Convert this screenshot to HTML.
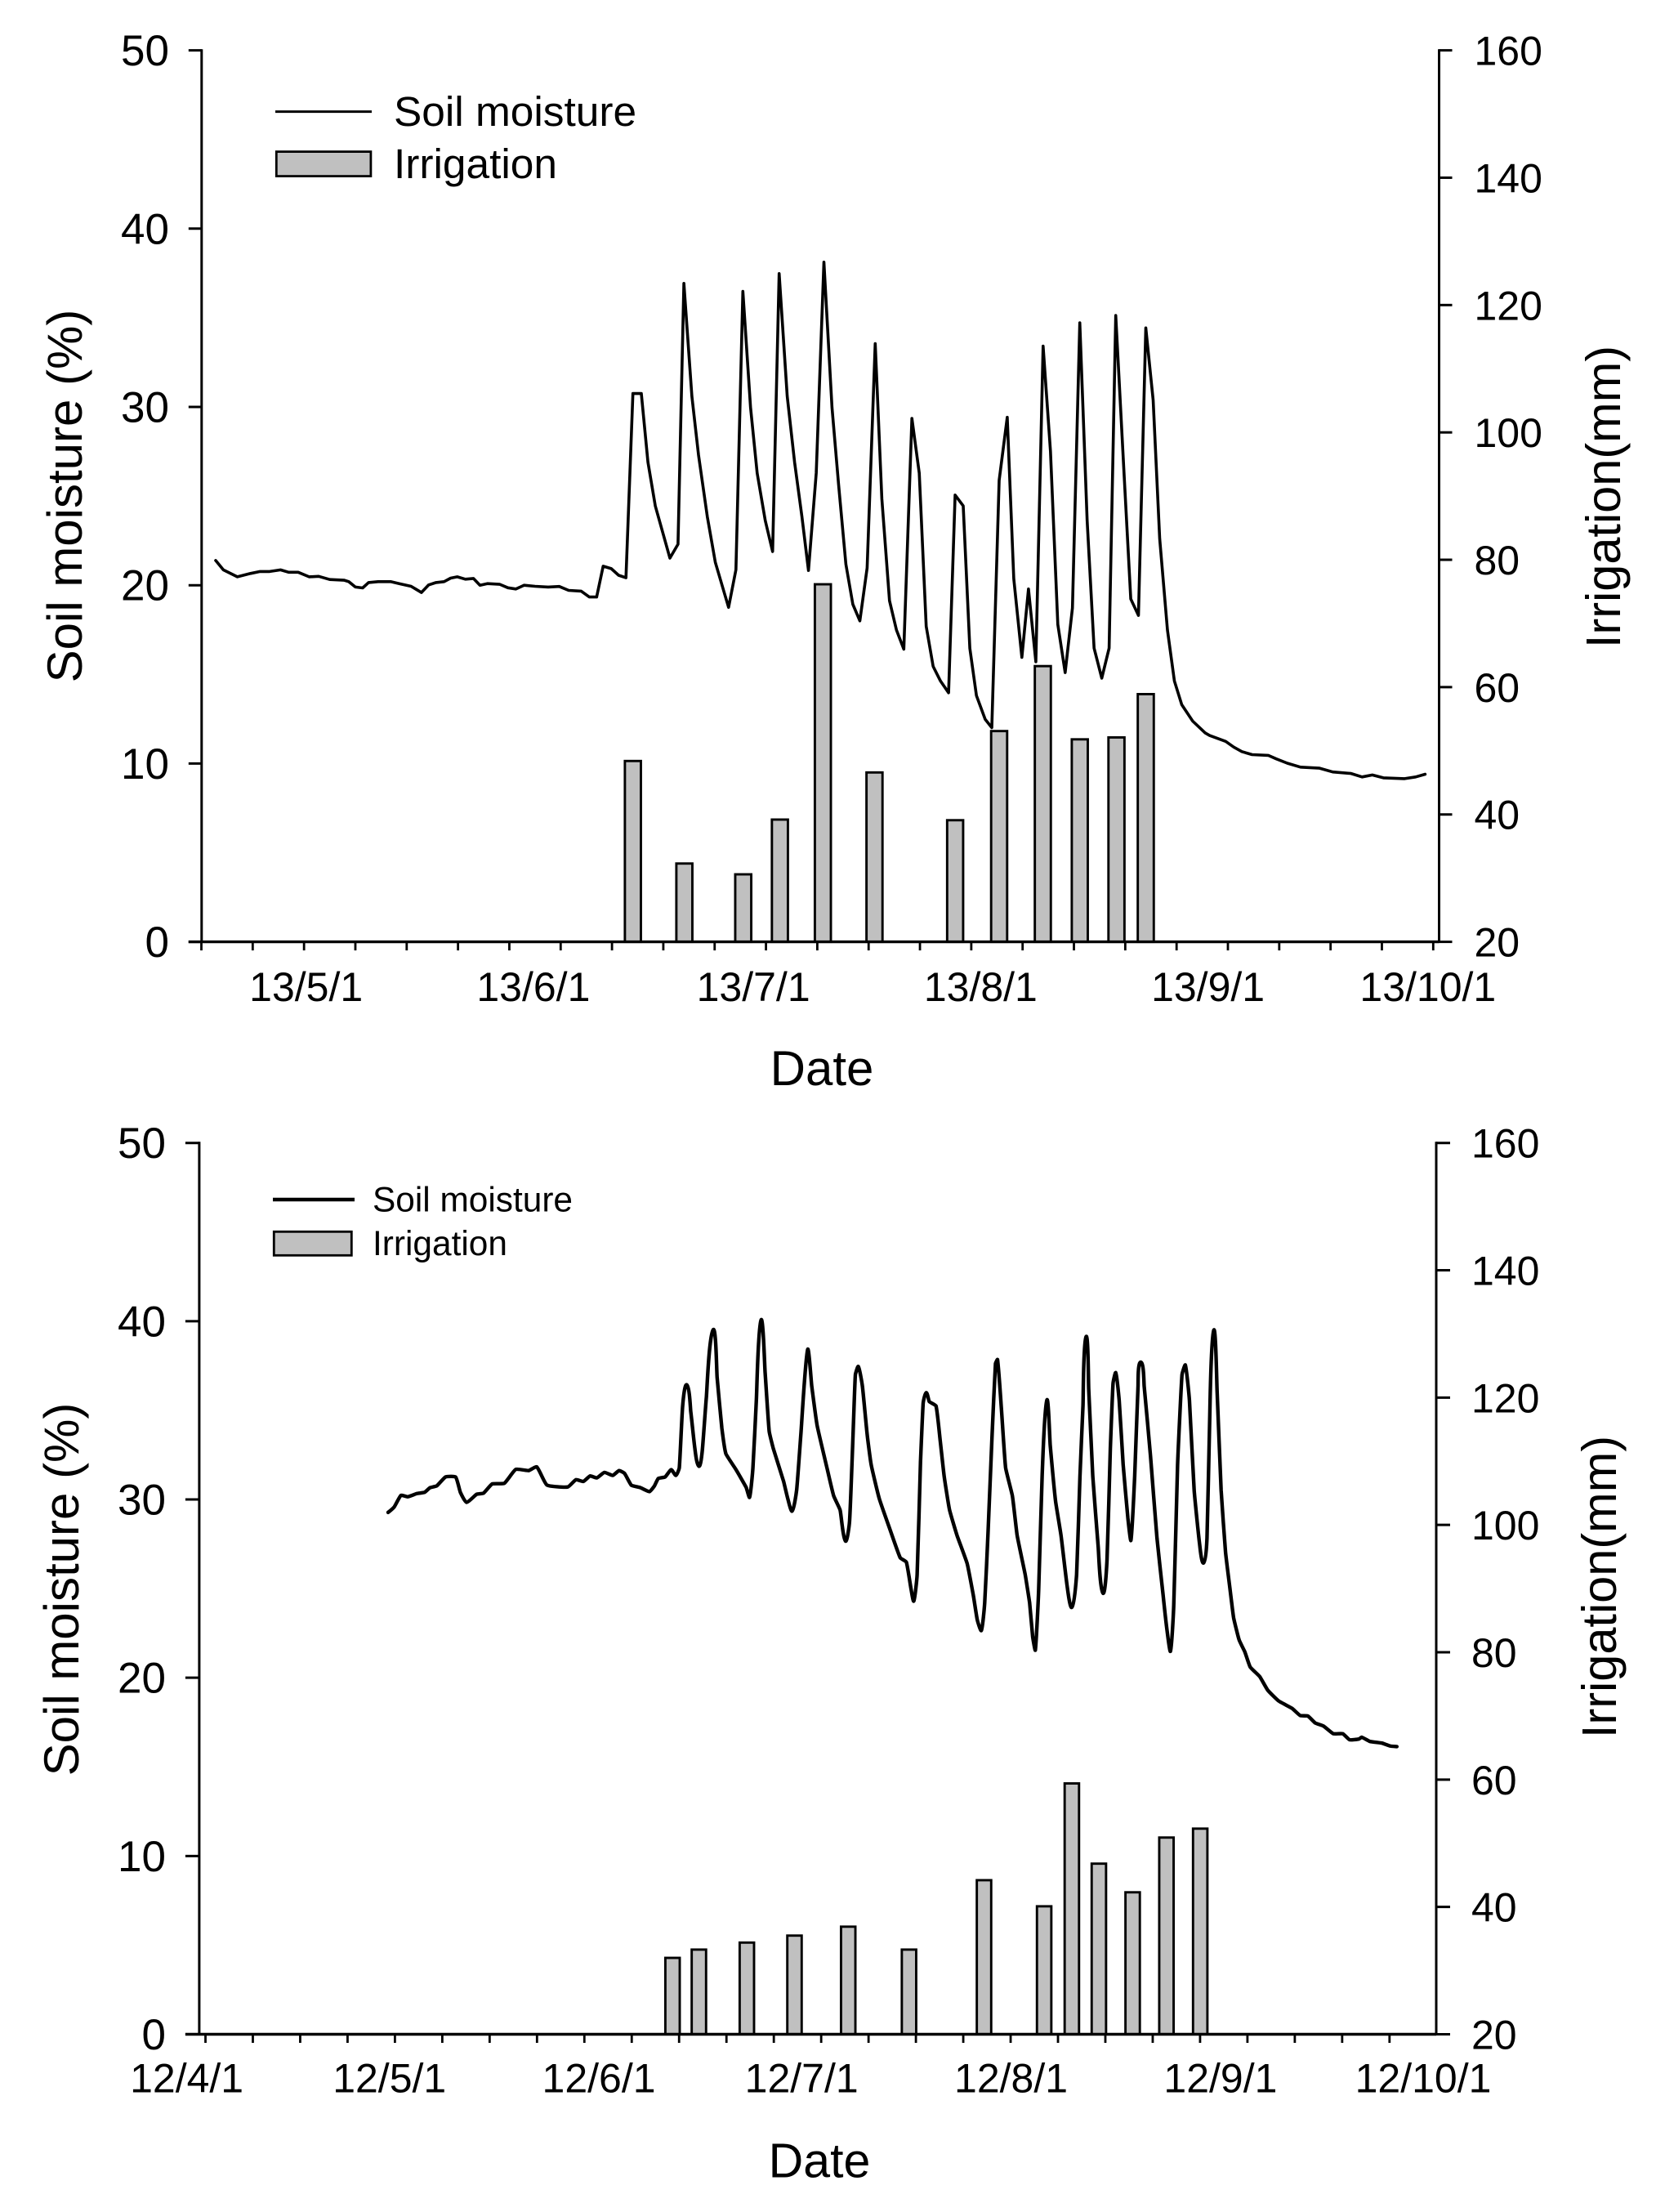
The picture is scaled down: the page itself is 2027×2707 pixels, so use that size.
<!DOCTYPE html>
<html lang="en">
<head>
<meta charset="utf-8">
<title>Soil moisture and irrigation</title>
<style>
  html, body { margin: 0; padding: 0; background: #fff; }
  svg { display: block; }
  text { font-family: "Liberation Sans", sans-serif; fill: #000; }
</style>
</head>
<body>
<svg id="figure" xmlns="http://www.w3.org/2000/svg" width="2027" height="2707" viewBox="0 0 2027 2707">
  <rect x="0" y="0" width="2027" height="2707" fill="#fff"/>

  <g id="chart-2013">
    <text font-size="60" text-anchor="middle" transform="translate(100,607) rotate(-90)">Soil moisture (%)</text>
    <text font-size="59.5" text-anchor="middle" transform="translate(1983,608) rotate(-90)">Irrigation(mm)</text>
    <text font-size="60" text-anchor="middle" x="1006" y="1328">Date</text>
    <g>
      <line x1="337" y1="136.6" x2="455" y2="136.6" stroke="#000" stroke-width="3"/>
      <text font-size="51.4" x="482" y="154">Soil moisture</text>
      <rect x="338.3" y="185.6" width="115.6" height="30" fill="#c0c0c0" stroke="#000" stroke-width="2.8"/>
      <text font-size="51.4" x="482" y="218">Irrigation</text>
    </g>
  </g>

  <g id="chart-2012">
    <text font-size="60" text-anchor="middle" transform="translate(96,1945) rotate(-90)">Soil moisture (%)</text>
    <text font-size="59.5" text-anchor="middle" transform="translate(1978,1942) rotate(-90)">Irrigation(mm)</text>
    <text font-size="59" text-anchor="middle" x="1003" y="2664.5">Date</text>
    <g>
      <line x1="334" y1="1468" x2="434" y2="1468" stroke="#000" stroke-width="4.4"/>
      <text font-size="42.4" x="456" y="1482.7">Soil moisture</text>
      <rect x="335.3" y="1507.3" width="95" height="29" fill="#c0c0c0" stroke="#000" stroke-width="2.8"/>
      <text font-size="42.4" x="456" y="1536">Irrigation</text>
    </g>
  </g>
</svg>

<script>
// ---------- 2013 data ----------
const days2013 = [
  1.95,3,4.9,6.7,8,9.3,10.8,11.9,13.2,14.7,16,17.5,19.5,20.1,21,22,22.8,24.1,25.8,27.1,28.6,30,31,32,33.1,34,34.9,36,37.1,38,39,40.7,41.8,42.9,44,45.5,47.3,48.8,50.1,
  51.8,52.9,53.9,54.8,55.9,56.9,57.9,58.85,60,60.9,61.9,63.9,65,65.8,66.9,67.8,69,70.1,71.9,72.9,73.85,74.9,75.8,76.9,77.9,78.8,79.9,80.9,81.9,82.8,83.85,84.9,86,86.9,87.9,88.85,89.8,90.8,91.9,92.8,93.85,94.8,95.8,96.9,97.9,98.85,99.8,100.8,101.9,102.8,103.9,104.8,105.7,106.9,107.8,108.8,109.9,110.8,111.9,112.8,113.8,114.8,115.8,116.8,117.8,118.8,119.8,120.8,121.75,122.8,123.8,124.7,125.8,126.75,127.8,128.8,129.8,130.7,131.75,132.7,133.7,135.2,136.9,137.5,139.7,140.8,141.9,143.3,145.5,146.6,148.1,149.9,152.5,154.3,156.8,158.3,159.7,161.2,164.1,165.6,166.9
];
const moisture2013 = [
  21.39,20.86,20.47,20.66,20.77,20.77,20.86,20.73,20.73,20.47,20.5,20.32,20.28,20.2,19.9,19.85,20.15,20.2,20.2,20.08,19.94,19.59,20.02,20.15,20.2,20.4,20.47,20.34,20.38,20,20.09,20.05,19.86,19.79,20,19.94,19.9,19.93,19.71,
  19.67,19.34,19.34,21.07,20.93,20.56,20.42,30.75,30.75,26.9,24.45,21.52,22.3,36.93,30.59,27.31,23.84,21.28,18.76,20.87,36.48,29.97,26.29,23.63,21.89,37.48,30.59,26.9,23.84,20.83,26.29,38.12,29.97,25.68,21.18,18.93,18,20.97,33.55,24.86,19.13,17.49,16.41,29.36,26.29,17.7,15.45,14.63,13.97,25.06,24.45,16.47,13.81,12.48,12.01,25.88,29.42,20.36,15.96,19.79,15.71,33.41,27.52,17.8,15.1,18.72,34.72,23.63,16.47,14.79,16.47,35.13,26.5,19.23,18.31,34.43,30.38,22.61,17.49,14.63,13.3,12.38,11.72,11.57,11.24,10.92,10.67,10.5,10.46,10.26,10.02,9.8,9.74,9.53,9.44,9.25,9.36,9.2,9.15,9.25,9.4
];
const barDays2013 = [58.85,65.87,73.9,78.9,84.76,91.8,102.8,108.8,114.76,119.8,124.8,128.8];
const irrigation2013 = [48.4,32.3,30.6,39.2,76.15,46.6,39.1,53.1,63.3,51.8,52.1,58.9];
const leftTicks2013 = [0,10,20,30,40,50];
const rightTicks2013 = [20,40,60,80,100,120,140,160];
const dateLabels2013 = ["13/5/1","13/6/1","13/7/1","13/8/1","13/9/1","13/10/1"];
const dateLabelDays2013 = [14,45,75,106,137,167];

// ---------- 2012 data ----------
const days2012 = [
  29.8,30.7,31.7,32.7,34.05,35.2,36,37,38.3,39.8,40.5,41.4,42.9,43.9,45.2,47,48.7,50.6,51.8,53.3,56.4,57.6,58.7,59.7,60.7,61.8,
  63.05,63.98,64.8,65.8,67.1,68.5,69.2,69.8,70.8,71.7,72.4,72.9,73.4,74,74.6,75.2,75.8,76.3,76.9,77.9,78.5,79.2,79.8,81.25,82.8,83.3,83.8,84.3,85,85.6,86.2,86.8,88.35,88.96,89.6,90.26,90.9,91.9,92.5,93.3,94.8,95.75,96.7,97.5,98.1,98.7,98.96,99.4,100,100.7,101.3,102.5,104.1,105.6,106.5,107.2,107.6,108.1,108.6,109,109.45,109.9,110.9,111.5,112.1,112.9,114,115.5,116.4,117,117.6,118.1,118.6,119.2,119.7,120,120.55,121.2,122.2,122.9,124.1,124.75,125.2,125.6,126.1,126.6,127.3,127.8,128.6,129.4,130.3,131,131.7,132.2,132.65,133.1,133.5,134.1,134.9,135.6,136.2,136.7,137.1,137.5,138,138.6,139.3,139.75,140.3,140.8,141.2,141.7,142.65,143.6,144.5,145.1,145.6,146.1,146.65,147.3,147.8,148.4,149.1,149.9,150.5,151,151.4,152,152.5,153.1,153.75,154.4,
  154.95,155.75,156.6,157.4,158.8,160,161.6,163.6,164.8,165.95,167,168.25,169.7,171.1,172.1,173.5,173.9,175.1,176.9,178.1,179.1
];
const moisture2012 = [
  29.27,29.58,30.23,30.15,30.33,30.4,30.66,30.76,31.26,31.26,30.4,29.84,30.29,30.35,30.87,30.91,31.69,31.62,31.83,30.81,30.7,31.11,31.01,31.32,31.21,31.52,
  31.35,31.62,31.46,30.8,30.67,30.44,30.75,31.18,31.26,31.67,31.35,31.78,35.25,36.43,34.93,32.88,31.86,32.73,35.72,39.51,36.83,33.99,32.57,31.7,30.67,30.12,31.78,35.57,40.06,37.14,33.83,32.88,30.99,30.04,29.35,30.52,33.67,38.41,36.36,34.15,31.7,30.2,29.41,27.67,28.78,34.46,36.99,37.46,36.36,33.67,31.94,30.04,28.3,26.73,26.49,24.99,24.3,25.78,32.09,35.41,35.99,35.49,35.25,33.36,31.3,29.41,27.99,26.41,24.67,23.25,22.65,24.2,28.15,33.67,37.62,37.85,35.25,31.78,30.2,27.99,25.78,24.2,22.31,21.55,24.99,31.3,35.57,33.04,29.88,27.99,25.15,23.95,25.78,31.3,35.25,39.12,36.2,31.3,27.36,24.75,26.57,32.88,36.51,37.11,35.57,31.94,28.94,27.71,31.3,36.36,37.7,36.36,32.41,27.83,24.67,22.62,21.49,24.2,31.94,36.99,37.54,35.57,30.51,27.52,26.44,27.83,34.46,39.48,36.04,30.51,27.04,25,
  23.36,22.13,21.45,20.6,20.07,19.3,18.7,18.28,17.88,17.85,17.47,17.29,16.86,16.86,16.52,16.56,16.66,16.43,16.33,16.17,16.14
];
const barDays2012 = [71.9,75.8,82.9,89.95,97.9,106.9,118,126.9,131,135,140,145,150];
const irrigation2012 = [32,33.3,34.4,35.5,36.9,33.3,44.2,40.1,59.4,46.8,42.3,50.9,52.3];
const leftTicks2012 = [0,10,20,30,40,50];
const rightTicks2012 = [20,40,60,80,100,120,140,160];
const dateLabels2012 = ["12/4/1","12/5/1","12/6/1","12/7/1","12/8/1","12/9/1","12/10/1"];
const dateLabelDays2012 = [0,30,61,91,122,153,183];

// ---------- drawing ----------
const SVG_NS = 'http://www.w3.org/2000/svg';

function mk(tag, attrs, parent, text) {
  const el = document.createElementNS(SVG_NS, tag);
  for (const k in attrs) el.setAttribute(k, attrs[k]);
  if (text !== undefined) el.textContent = text;
  parent.appendChild(el);
  return el;
}

// Path through the points; optionally lightly smoothed with length-scaled tangents.
function linePath(P, smooth) {
  let d = 'M' + P[0][0].toFixed(1) + ' ' + P[0][1].toFixed(1);
  if (!smooth) {
    for (let i = 1; i < P.length; i++) d += 'L' + P[i][0].toFixed(1) + ' ' + P[i][1].toFixed(1);
    return d;
  }
  const tangent = i => {
    const a = P[Math.max(i - 1, 0)], b = P[Math.min(i + 1, P.length - 1)];
    const dx = b[0] - a[0], dy = b[1] - a[1], n = Math.hypot(dx, dy) || 1;
    return [dx / n, dy / n];
  };
  for (let i = 0; i < P.length - 1; i++) {
    const p = P[i], q = P[i + 1], L = Math.hypot(q[0] - p[0], q[1] - p[1]);
    const t0 = tangent(i), t1 = tangent(i + 1), k = 0.13 * L;
    d += 'C' + (p[0] + t0[0] * k).toFixed(1) + ' ' + (p[1] + t0[1] * k).toFixed(1) + ' ' +
         (q[0] - t1[0] * k).toFixed(1) + ' ' + (q[1] - t1[1] * k).toFixed(1) + ' ' +
         q[0].toFixed(1) + ' ' + q[1].toFixed(1);
  }
  return d;
}

function drawChart(cfg) {
  const root = document.getElementById(cfg.rootId);
  const x = d => cfg.xOrigin + cfg.pxPerDay * d;
  const yL = v => cfg.yBase - (v / 50) * cfg.plotHeight;
  const yR = v => cfg.yBase - ((v - 20) / 140) * cfg.plotHeight;

  // bars
  cfg.barDays.forEach((d, i) => {
    const top = yR(cfg.irrigation[i]);
    const el = mk('rect', {
      x: x(d) - cfg.barWidth / 2, y: top, width: cfg.barWidth, height: cfg.yBase - top,
      fill: '#c0c0c0', stroke: '#000', 'stroke-width': 2.9
    }, root);
    
    
  });

  // moisture line
  const pts = cfg.days.map((d, i) => [x(d), yL(cfg.moisture[i])]);
  const line = mk('path', {
    d: linePath(pts, cfg.smooth), fill: 'none', stroke: '#000', 'stroke-width': cfg.lineWidth,
    'stroke-linejoin': 'round', 'stroke-linecap': 'round'
  }, root);
  
  

  // axes
  const leftAxis = mk('line', { x1: cfg.leftX, y1: yL(50) - 1.4, x2: cfg.leftX, y2: cfg.yBase, stroke: '#000', 'stroke-width': 3 }, root);
  
  

  const rightAxis = mk('line', { x1: cfg.rightX, y1: yR(160) - 1.4, x2: cfg.rightX, y2: cfg.yBase, stroke: '#000', 'stroke-width': 3 }, root);
  
  

  const xAxis = mk('line', { x1: cfg.leftX - cfg.tickLen, y1: cfg.yBase, x2: cfg.rightX, y2: cfg.yBase, stroke: '#000', 'stroke-width': 3.4 }, root);
  
  

  // left ticks
  cfg.leftTicks.forEach(v => {
    const y = yL(v);
    const t = mk('line', { x1: cfg.leftX - cfg.tickLen, y1: y, x2: cfg.leftX, y2: y, stroke: '#000', 'stroke-width': 3 }, root);
    
    
    const l = mk('text', { x: cfg.leftLabelX, y: y + 18.5, 'font-size': 53, 'text-anchor': 'end' }, root, String(v));
    
    
  });

  // right ticks
  cfg.rightTicks.forEach(v => {
    const y = yR(v);
    const t = mk('line', { x1: cfg.rightX, y1: y, x2: cfg.rightX + cfg.tickLen, y2: y, stroke: '#000', 'stroke-width': 3 }, root);
    
    
    const l = mk('text', { x: cfg.rightLabelX, y: y + 18, 'font-size': 50 }, root, String(v));
    
    
  });

  // x ticks
  for (let i = 0; i < cfg.xTickCount; i++) {
    const px = x(cfg.xTickStart + i * cfg.xTickStep);
    const t = mk('line', { x1: px, y1: cfg.yBase, x2: px, y2: cfg.yBase + 10.5, stroke: '#000', 'stroke-width': 2.8 }, root);
    
    
  }

  // x labels
  cfg.dateLabels.forEach((s, i) => {
    const l = mk('text', {
      x: x(cfg.dateLabelDays[i]) + cfg.labelShift, y: cfg.xLabelY, 'font-size': 50, 'text-anchor': 'middle'
    }, root, s);
    
    
  });
}

drawChart({
  rootId: 'chart-2013', days: days2013, moisture: moisture2013,
  barDays: barDays2013, irrigation: irrigation2013,
  leftTicks: leftTicks2013, rightTicks: rightTicks2013,
  dateLabels: dateLabels2013, dateLabelDays: dateLabelDays2013,
  xOrigin: 246.5, pxPerDay: 8.975, yBase: 1152.6, plotHeight: 1091,
  leftX: 246.8, rightX: 1761.5, tickLen: 16, barWidth: 19.6, lineWidth: 3.6, smooth: false,
  leftLabelX: 207, rightLabelX: 1804.5, xLabelY: 1225,
  xTickStart: 0, xTickStep: 7, xTickCount: 25, labelShift: 2.5
});

drawChart({
  rootId: 'chart-2012', days: days2012, moisture: moisture2012,
  barDays: barDays2012, irrigation: irrigation2012,
  leftTicks: leftTicks2012, rightTicks: rightTicks2012,
  dateLabels: dateLabels2012, dateLabelDays: dateLabelDays2012,
  xOrigin: 228.6, pxPerDay: 8.27, yBase: 2489.5, plotHeight: 1090.8,
  leftX: 243.9, rightX: 1758, tickLen: 17, barWidth: 17.6, lineWidth: 4.4, smooth: true,
  leftLabelX: 203, rightLabelX: 1801, xLabelY: 2560.7,
  xTickStart: 2.77, xTickStep: 7.01, xTickCount: 26, labelShift: 0
});
</script>
</body>
</html>
